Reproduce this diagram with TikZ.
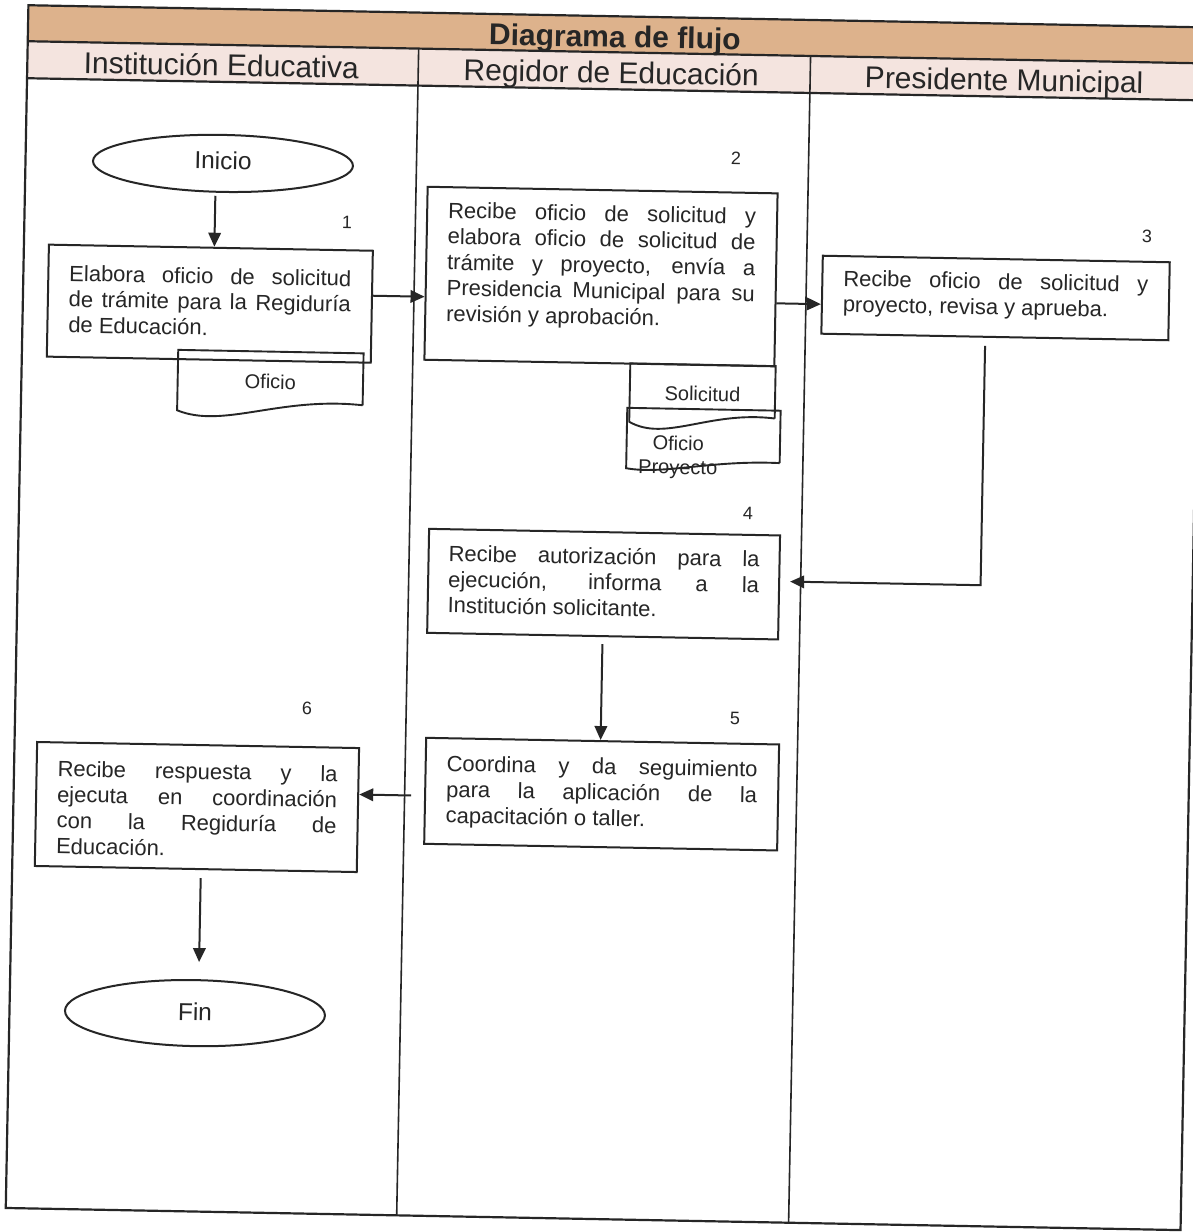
\documentclass[tikz,border=0pt]{standalone}
\usepackage{fontspec}
\setmainfont{Liberation Sans}
\usetikzlibrary{arrows.meta,calc,shapes.geometric}

\definecolor{ink}{HTML}{262626}
\definecolor{titleband}{HTML}{DDB28C}
\definecolor{laneband}{HTML}{F4E4DF}

% justified task text: width, height, first baseline offset, text
\newcommand{\tasktext}[4]{%
  \parbox[c][#2pt][t]{#1pt}{\hyphenpenalty=10000\exhyphenpenalty=10000\tolerance=10000
  \rule{0pt}{#3pt}#4}}

% document symbol drawn round a node: node, rise of right end, dip, lift
\newcommand{\docoutline}[4]{%
  \draw[docedge] ($(#1.south east)+(0,-#2)$) -- (#1.north east) -- (#1.north west) -- (#1.south west)
    .. controls ($(#1.south west)!0.25!(#1.south east)+(0,#3)$)
           and ($(#1.south west)!0.55!(#1.south east)+(0,-#4)$)
    .. ($(#1.south east)+(0,-#2)$);}

\tikzset{
  frame/.style={draw=ink, line width=2.2pt},
  lane/.style={draw=ink, line width=1.6pt},
  titletext/.style={anchor=base, inner sep=0pt, text=ink, font=\fontsize{30}{34}\selectfont\bfseries},
  lanetext/.style={anchor=base, inner sep=0pt, text=ink, font=\fontsize{30}{34}\selectfont},
  taskbox/.style={draw=ink, line width=2pt, rectangle, inner sep=0pt, text=ink,
    font=\fontsize{22}{25.8}\selectfont},
  terminal/.style={draw=ink, line width=2pt, ellipse, inner sep=0pt, text=ink,
    font=\fontsize{24.5}{28}\selectfont},
  stepno/.style={inner sep=0pt, text=ink, font=\fontsize{18}{20}\selectfont},
  docnode/.style={inner sep=0pt, text=ink, font=\fontsize{20}{24}\selectfont, align=center},
  docedge/.style={draw=ink, line width=1.9pt},
  flow/.style={draw=ink, line width=2pt, -{Triangle[length=14pt,width=12.5pt]}},
}

\begin{document}
\begin{tikzpicture}[x=1pt,y=-1pt]
\clip (0,0) rectangle (1193,1232);
\fill[white] (0,0) rectangle (1193,1232);
\begin{scope}[rotate around={-1.08:(596,616)}, transform shape]

  % table frame and swimlanes
  \fill[titleband] (17,16) rectangle (1192,52);
  \fill[laneband] (17,52) rectangle (1192,89);
  \draw[lane] (408,52) -- (408,1219);
  \draw[lane] (800,52) -- (800,1219);
  \draw[frame] (17,52) -- (1192,52) (17,89) -- (1192,89);
  \draw[frame] (17,16) rectangle (1192,1219);

  \node[titletext] (title) at (604,47) {Diagrama de flujo};
  \node[lanetext] (lane1) at (211,83) {Institución Educativa};
  \node[lanetext] (lane2) at (601,83) {Regidor de Educación};
  \node[lanetext] (lane3) at (994,83) {Presidente Municipal};

  % terminals
  \node[terminal, minimum width=260pt, minimum height=57pt] (inicio) at (214.5,170.5) {\raisebox{6pt}{Inicio}};
  \node[terminal, minimum width=260pt, minimum height=66pt] (fin) at (202.5,1020.6) {\raisebox{3pt}{Fin}};

  % process steps
  \node[taskbox, minimum width=324pt, minimum height=112pt] (b1) at (204,311)
    {\tasktext{282}{112}{36}{Elabora oficio de solicitud \linebreak de trámite para la Regiduría \linebreak de Educación.}};
  \node[taskbox, minimum width=350pt, minimum height=173pt] (b2) at (594.6,276.5)
    {\tasktext{308}{173}{31}{Recibe oficio de solicitud y \linebreak elabora oficio de solicitud de \linebreak trámite y proyecto, envía a \linebreak Presidencia Municipal para su \linebreak revisión y aprobación.}};
  \node[taskbox, minimum width=347pt, minimum height=78pt] (b3) at (989.5,290.5)
    {\tasktext{305}{78}{30}{Recibe oficio de solicitud y \linebreak proyecto, revisa y aprueba.}};
  \node[taskbox, minimum width=351pt, minimum height=104pt] (b4) at (603,584)
    {\tasktext{311}{104}{32}{Recibe autorización para la \linebreak ejecución, informa a la \linebreak Institución solicitante.}};
  \node[taskbox, minimum width=353pt, minimum height=106pt] (b5) at (605,794)
    {\tasktext{311}{106}{33}{Coordina y da seguimiento \linebreak para la aplicación de la \linebreak capacitación o taller.}};
  \node[taskbox, minimum width=322pt, minimum height=124pt] (b6) at (200.6,814.5)
    {\tasktext{280}{124}{34}{Recibe respuesta y la \linebreak ejecuta en coordinación \linebreak con la Regiduría de \linebreak Educación.}};

  % step numbers
  \node[stepno] (n1) at (339.6,226.7) {1};
  \node[stepno] (n2) at (727.4,155.4) {2};
  \node[stepno] (n3) at (1139.8,225.6) {3};
  \node[stepno] (n4) at (746,510.1) {4};
  \node[stepno] (n5) at (737,715.4) {5};
  \node[stepno] (n6) at (308.7,713.4) {6};

  % documents
  \node[docnode, minimum width=185pt, minimum height=60pt] (d1) at (266,388) {Oficio};
  \docoutline{d1}{8.5}{18}{16}
  \node[docnode, minimum width=145pt, minimum height=58pt] (d2) at (698.3,392) {Solicitud};
  \docoutline{d2}{6}{20}{13}
  \node[docnode, minimum width=153pt, minimum height=60pt] (d3) at (700.1,437.5) {};
  \docoutline{d3}{8}{6}{10}
  \node[docnode, anchor=north] (d3t) at (675,434) {Oficio\\Proyecto};

  % connectors
  \coordinate (x207) at (207.5,0);
  \coordinate (y300) at (0,300);
  \coordinate (x980) at (980,0);
  \coordinate (y578) at (0,578);
  \coordinate (y799) at (0,799);
  \coordinate (x206) at (205.7,0);

  \draw[flow] ($(inicio.south -| x207)+(0,3)$) -- (b1.north -| x207);
  \draw[flow] (b1.east |- y300) -- (b2.west |- y300);
  \draw[flow] (b2.east |- y300) -- (b3.west |- y300);
  \draw[flow] ($(b3.south -| x980)+(0,8)$) |- ($(b4.east |- y578)+(10,0)$);
  \draw[flow] ($(b4.south)+(0,7)$) -- (b4.south |- b5.north);
  \draw[flow] ($(b5.west |- y799)+(-13,0)$) -- (b6.east |- y799);
  \draw[flow] ($(b6.south -| x206)+(0,8)$) -- ($(fin.north -| x206)+(0,-17)$);

\end{scope}
\end{tikzpicture}
\end{document}
